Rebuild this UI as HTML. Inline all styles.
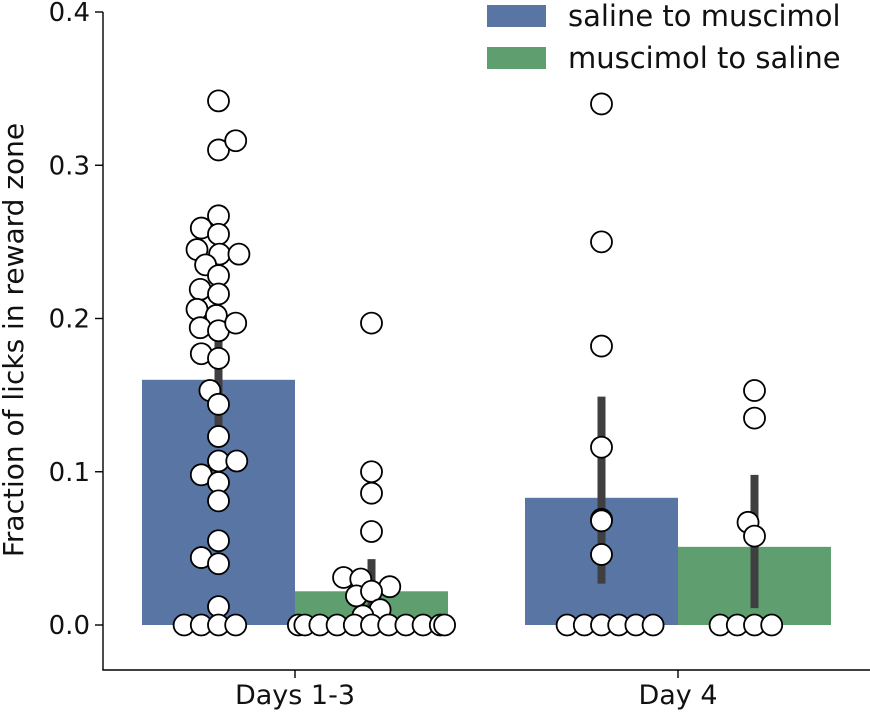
<!DOCTYPE html>
<html><head><meta charset="utf-8"><style>
html,body{margin:0;padding:0;background:#fff;}
svg text{font-family:"DejaVu Sans","Liberation Sans",sans-serif;fill:#111;}
</style></head><body>
<svg id="chart" width="870" height="711" viewBox="0 0 870 711"></svg>
<script>
const groups = ["Days 1-3", "Day 4"];
const seriesNames = ["saline to muscimol", "muscimol to saline"];
const seriesColors = ["#5875a4", "#5f9e6e"];
const barMeans = [[0.160, 0.083], [0.022, 0.051]];
const errLow = [[0.129, 0.027], [0.006, 0.011]];
const errHigh = [[0.187, 0.149], [0.043, 0.098]];
const yTicks = [0.0, 0.1, 0.2, 0.3, 0.4];
const yTickLabels = ["0.0", "0.1", "0.2", "0.3", "0.4"];
const pts_s0_g0 = [0.342,0.310,0.316,0.267,0.259,0.255,0.245,0.242,0.242,0.235,0.228,0.219,0.216,0.206,0.202,0.194,0.192,0.197,0.177,0.174,0.153,0.144,0.123,0.107,0.107,0.098,0.093,0.081,0.055,0.044,0.040,0.012,0,0,0,0];
const off_s0_g0 = [0,0,0.8,0,-0.8,0,-1,0.05,0.95,-0.6,0,-0.85,0,-1,-0.1,-0.85,0,0.8,-0.8,0,-0.4,0,0,0,0.85,-0.8,0,0,0,-0.8,0,0,-1.6,-0.8,0,0.8];
const pts_s1_g0 = [0.197,0.100,0.086,0.061,0.031,0.030,0.025,0.019,0.022,0.010,0.006,0,0,0,0,0,0,0,0,0,0,0];
const off_s1_g0 = [0,0,0,0,-1.3,-0.5,0.85,-0.7,0,0.4,-0.4,-3.4,-3.1,-2.4,-1.6,-0.8,0,0.8,1.6,2.4,3.2,3.4];
const pts_s0_g1 = [0.340,0.250,0.182,0.116,0.069,0.068,0.046,0,0,0,0,0,0];
const off_s0_g1 = [0,0,0,0,0,0,0,-1.6,-0.8,0,0.8,1.6,2.4];
const pts_s1_g1 = [0.153,0.135,0.067,0.058,0,0,0,0];
const off_s1_g1 = [0,0,-0.3,0,-1.6,-0.8,0,0.8];
const points = [[pts_s0_g0, pts_s0_g1],[pts_s1_g0, pts_s1_g1]];
const offsets = [[off_s0_g0, off_s0_g1],[off_s1_g0, off_s1_g1]];

const svg = document.getElementById('chart');
const NS = 'http://www.w3.org/2000/svg';
const y0 = 625, y1 = 12, yMax = 0.4;
function yS(v){ return y0 - (v / yMax) * (y0 - y1); }
const groupCenters = [295, 678];
const barW = 153;
function xBar(g, s){ return groupCenters[g] - barW + s * barW; }
function mk(tag, attrs){ const e = document.createElementNS(NS, tag); for (const k in attrs) e.setAttribute(k, attrs[k]); svg.appendChild(e); return e; }

for (let s = 0; s < 2; s++) for (let g = 0; g < 2; g++) {
  const r = mk('rect', {x: xBar(g, s), y: yS(barMeans[s][g]), width: barW, height: y0 - yS(barMeans[s][g]), fill: seriesColors[s]});
  
  
}
for (let s = 0; s < 2; s++) for (let g = 0; g < 2; g++) {
  const cx = xBar(g, s) + barW / 2;
  const l = mk('line', {x1: cx, x2: cx, y1: yS(errLow[s][g]), y2: yS(errHigh[s][g]), stroke: '#3f3f3f', 'stroke-width': 8});
  
  
}
for (let s = 0; s < 2; s++) for (let g = 0; g < 2; g++) {
  const cx = xBar(g, s) + barW / 2;
  const vals = points[s][g];
  for (let i = 0; i < vals.length; i++) {
    const c = mk('circle', {cx: cx + offsets[s][g][i] * 21.5, cy: yS(vals[i]), r: 10.5, fill: '#fff', stroke: '#000', 'stroke-width': 1.8});
    
    
  }
}
const ya = mk('line', {x1: 103, x2: 103, y1: 12, y2: 670, stroke: '#000', 'stroke-width': 1.4});


const xa = mk('line', {x1: 102.3, x2: 870, y1: 670, y2: 670, stroke: '#000', 'stroke-width': 1.4});


for (let i = 0; i < yTicks.length; i++) {
  const y = yS(yTicks[i]);
  const t = mk('line', {x1: 95, x2: 103, y1: y, y2: y, stroke: '#000', 'stroke-width': 1.4});
  
  
  const tx = mk('text', {x: 90, y: y + 9, 'text-anchor': 'end', 'font-size': 26});
  tx.textContent = yTickLabels[i];
  
  
}
for (let g = 0; g < groups.length; g++) {
  const t = mk('line', {x1: groupCenters[g], x2: groupCenters[g], y1: 670, y2: 678, stroke: '#000', 'stroke-width': 1.4});
  
  
  const tx = mk('text', {x: groupCenters[g], y: 704, 'text-anchor': 'middle', 'font-size': 27});
  tx.textContent = groups[g];
  
  
}
const yt = mk('text', {x: 0, y: 0, 'text-anchor': 'middle', 'font-size': 28, transform: 'translate(23,340) rotate(-90)'});
yt.textContent = 'Fraction of licks in reward zone';


for (let s = 0; s < 2; s++) {
  const ly = 5 + s * 42;
  const r = mk('rect', {x: 487, y: ly, width: 59, height: 22, fill: seriesColors[s]});
  
  
  const t = mk('text', {x: 568, y: ly + 21, 'font-size': 29});
  t.textContent = seriesNames[s];
  
  
}
</script>
</body></html>
